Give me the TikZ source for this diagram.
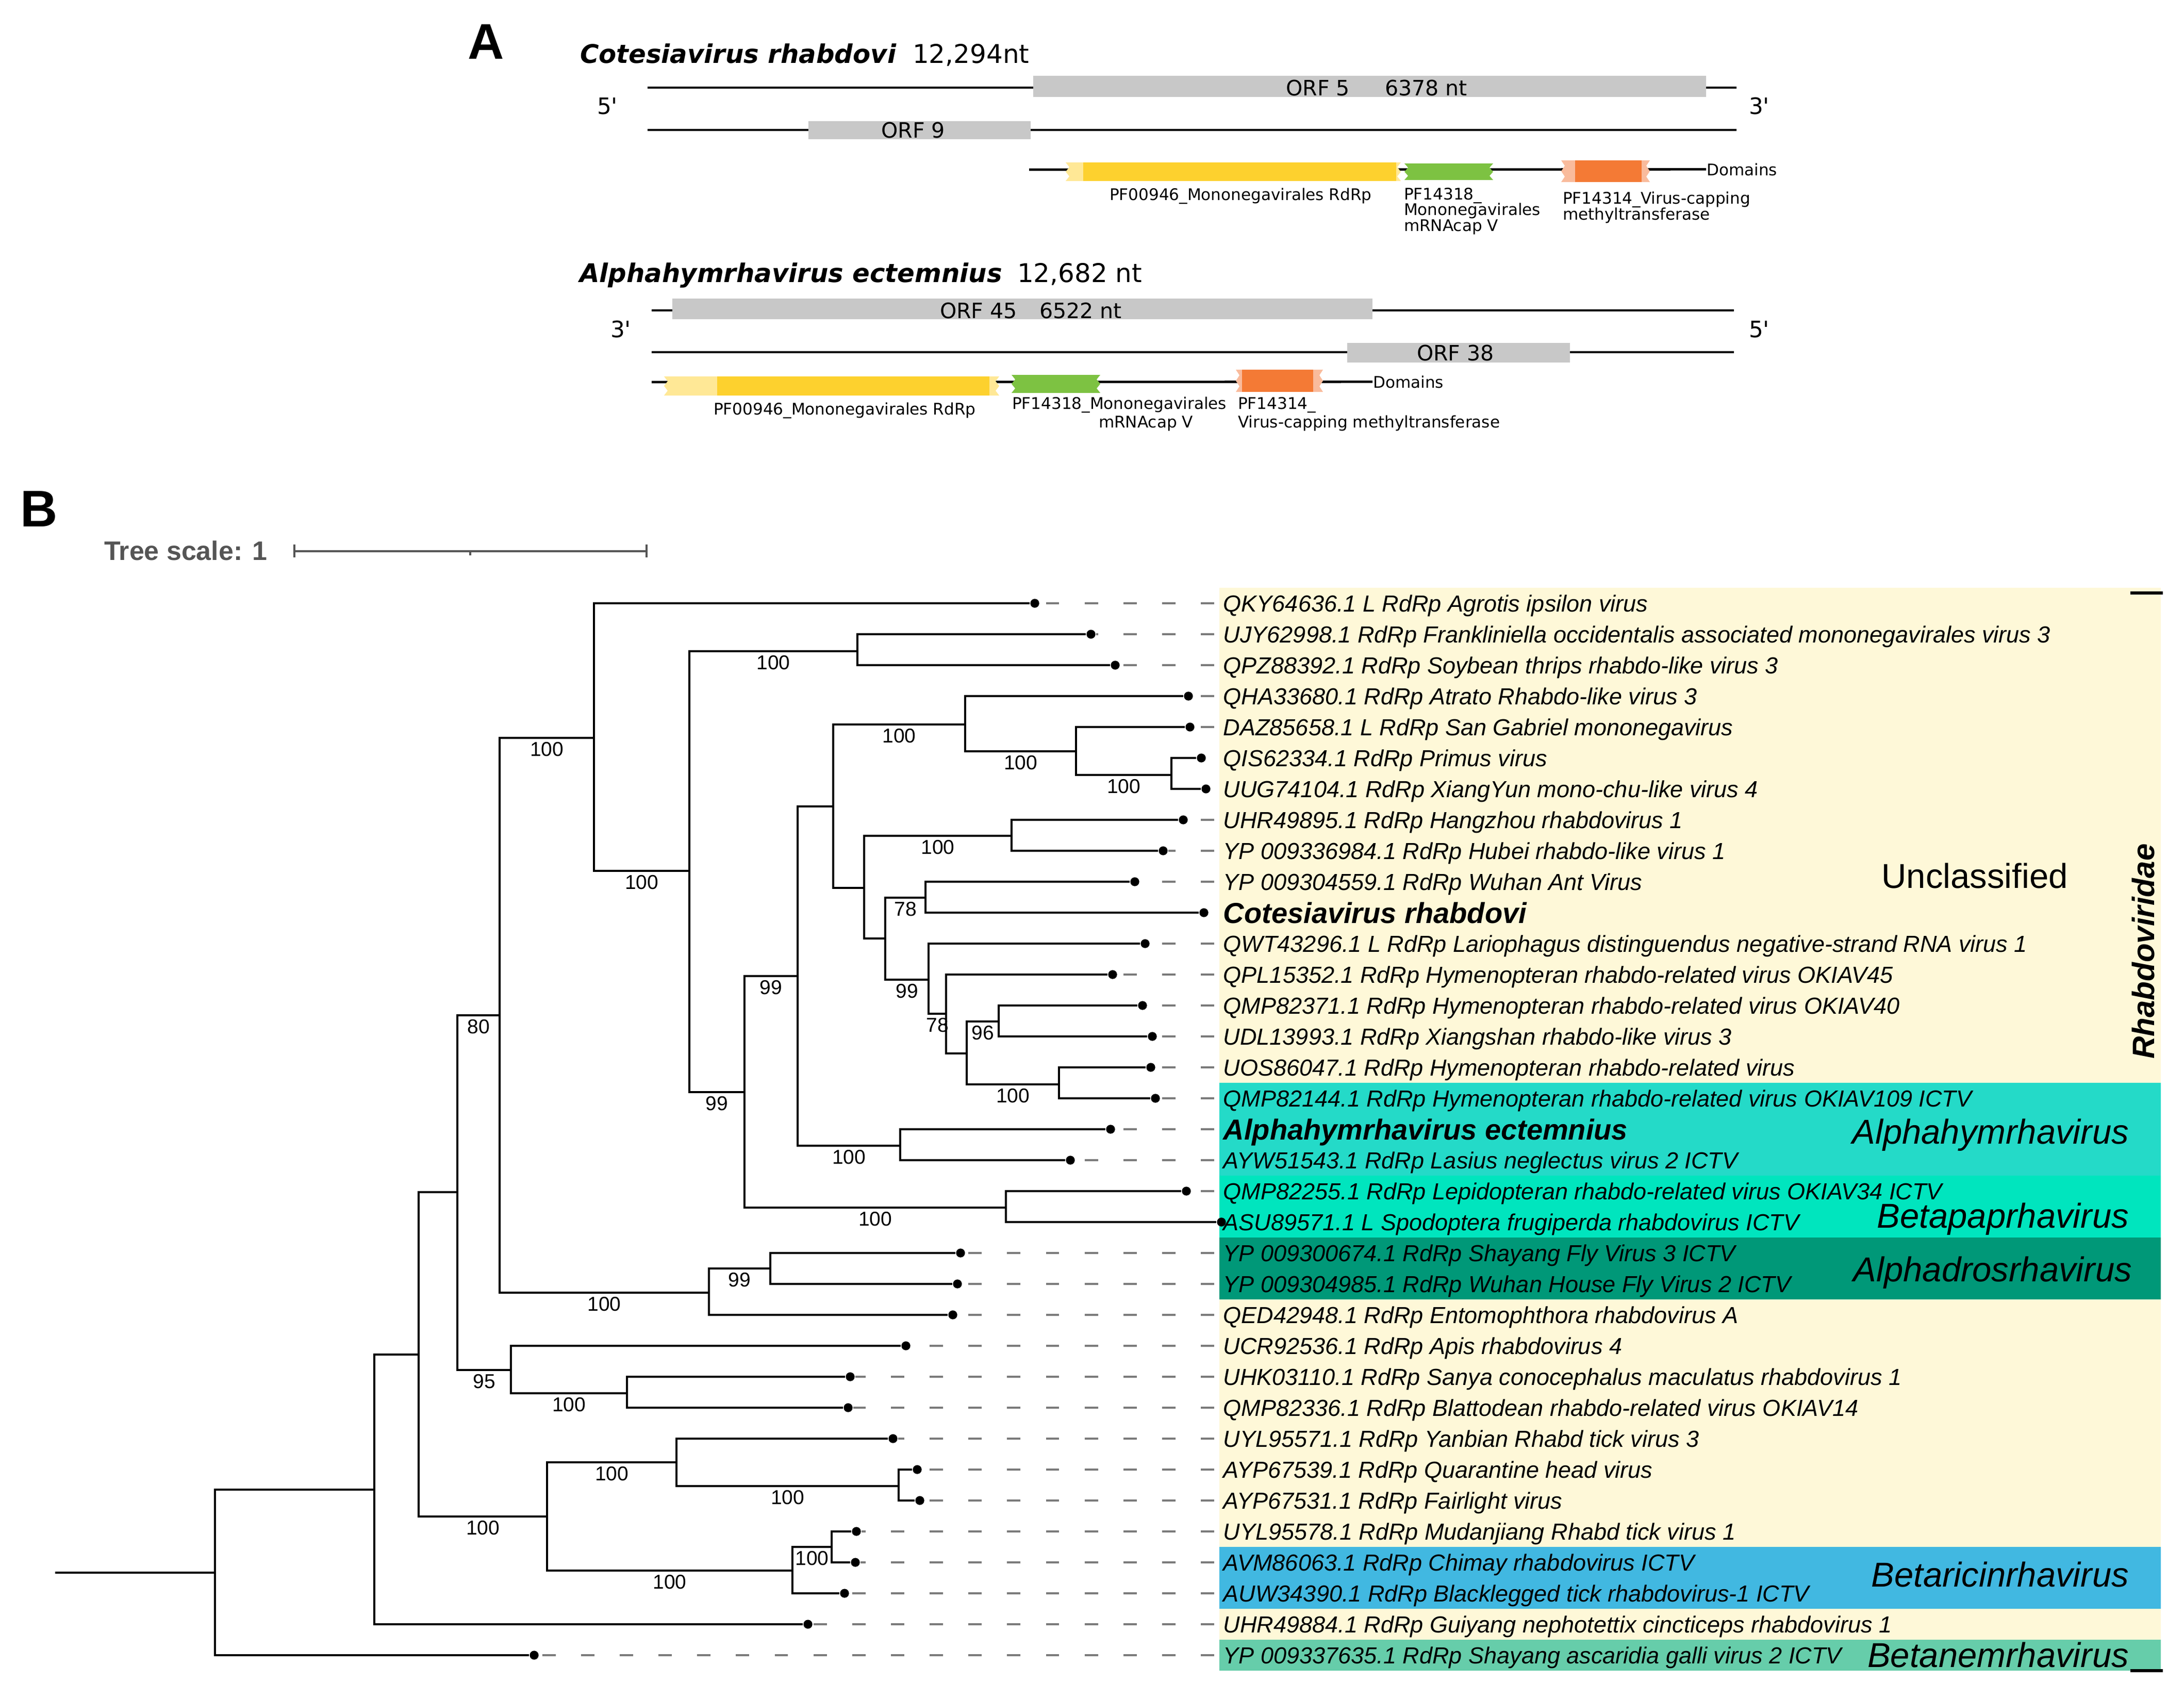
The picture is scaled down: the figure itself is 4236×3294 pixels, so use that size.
\documentclass[tikz,border=0pt]{standalone}
\usepackage{fontspec}
\setmainfont{Liberation Sans}
\newfontfamily\dvsans{DejaVu Sans}
\definecolor{bgY}{HTML}{FEF8D8}
\definecolor{cAlphahym}{HTML}{24DAC8}
\definecolor{cBetapap}{HTML}{00E5BE}
\definecolor{cAlphadros}{HTML}{009878}
\definecolor{cBetaricin}{HTML}{41B8E1}
\definecolor{cBetanem}{HTML}{66CDAA}
\definecolor{orfgray}{HTML}{C8C8C8}
\definecolor{ylwD}{HTML}{FDD12E}
\definecolor{ylwL}{HTML}{FFE896}
\definecolor{grnD}{HTML}{7DC242}
\definecolor{orgD}{HTML}{F47A35}
\definecolor{orgL}{HTML}{F9BB9C}
\definecolor{leadgray}{HTML}{7A7A7A}
\definecolor{scalegray}{HTML}{555555}
\newcommand\domzz[5]{%
  \fill[#5] (#1,#3) -- (#2,#3)
    -- ({#2-7},{#3+0.25*(#4-#3)}) -- (#2,{#3+0.5*(#4-#3)})
    -- ({#2-7},{#3+0.75*(#4-#3)}) -- (#2,#4) -- (#1,#4)
    -- ({#1+7},{#3+0.75*(#4-#3)}) -- (#1,{#3+0.5*(#4-#3)})
    -- ({#1+7},{#3+0.25*(#4-#3)}) -- cycle;}
\begin{document}
\begin{tikzpicture}[x=0.185bp,y=-0.185bp,
  br/.style={line width=0.8bp,black},
  gline/.style={line width=0.85bp,black},
  lead/.style={draw=leadgray,line width=0.75bp,dash pattern=on 4.8bp off 9.1bp},
  dot/.style={circle,fill=black,inner sep=0pt,minimum size=3.2bp},
  lab/.style={font=\fontsize{8.33bp}{10bp}\selectfont\itshape,inner xsep=3.1bp,inner ysep=0pt,anchor=base west},
  blab/.style={lab,font=\fontsize{10.36bp}{12bp}\selectfont\bfseries\itshape},
  boot/.style={font=\fontsize{7.2bp}{8bp}\selectfont,inner sep=0pt,anchor=north,yshift=-1.1bp},
  grp/.style={font=\fontsize{12.4bp}{14bp}\selectfont\itshape,inner sep=0pt,anchor=base east},
  ttl/.style={font=\dvsans\fontsize{9.2bp}{11bp}\selectfont\bfseries\itshape,inner sep=0pt,anchor=base west},
  ttn/.style={font=\dvsans\fontsize{9.25bp}{11bp}\selectfont,inner sep=0pt,anchor=base west},
  orf/.style={font=\dvsans\fontsize{7.6bp}{9bp}\selectfont,inner sep=0pt,anchor=base},
  prime/.style={font=\dvsans\fontsize{8.1bp}{9bp}\selectfont,inner sep=0pt,anchor=base},
  dom/.style={font=\dvsans\fontsize{5.75bp}{7bp}\selectfont,inner sep=0pt,anchor=base west},
  orfbox/.style={fill=orfgray}
]
\useasboundingbox (0,0) rectangle (4236,3294);

% ================= Panel A =================
\node[font=\fontsize{18bp}{20bp}\selectfont\bfseries,inner sep=0pt] (pA) at (943,81) {A};

% genome 1
\node[ttl] (t1) at (1124,122) {Cotesiavirus rhabdovi};
\node[ttn] (t1n) at (1769,122) {12,294nt};
\coordinate (g1a) at (1256,170); \coordinate (g1b) at (3368,170);
\coordinate (g1c) at (1256,252); \coordinate (g1d) at (3368,252);
\draw[gline] (g1a) -- (g1b);
\draw[gline] (g1c) -- (g1d);
\fill[orfbox] (2004,147) rectangle (3309,188);
\fill[orfbox] (1568,235) rectangle (1999,270);
\node[orf] (o5) at (2556,185) {ORF 5};
\node[orf] (o5n) at (2766,185) {6378 nt};
\node[orf] (o9) at (1771,267) {ORF 9};
\node[prime] (p5a) at (1178,221) {5\textquotesingle};
\node[prime] (p3a) at (3412,221) {3\textquotesingle};
\node[dom] (dm1) at (3309,340) {Domains};
\coordinate (d1a) at (1996,329);
\draw[gline] (d1a) -- (dm1.west);
\domzz{2067}{2717}{315}{351}{ylwL}
\fill[ylwD] (2101,315) rectangle (2708,351);
\domzz{2724}{2896}{317}{349}{grnD}
\domzz{3028}{3200}{311}{353}{orgL}
\fill[orgD] (3055,311) rectangle (3184,353);
\node[dom] (d1l1) at (2151,388) {PF00946\_Mononegavirales RdRp};
\node[dom] (d1l2) at (2722,387) {PF14318\_};
\node[dom] (d1l3) at (2722,417) {Mononegavirales};
\node[dom] (d1l4) at (2722,448) {mRNAcap V};
\node[dom] (d1l5) at (3030,395) {PF14314\_Virus-capping};
\node[dom] (d1l6) at (3030,426) {methyltransferase};

% genome 2
\node[ttl] (t2) at (1123,547) {Alphahymrhavirus ectemnius};
\node[ttn] (t2n) at (1972,547) {12,682 nt};
\coordinate (g2a) at (1264,602); \coordinate (g2b) at (3363,602);
\coordinate (g2c) at (1264,683); \coordinate (g2d) at (3363,683);
\draw[gline] (g2a) -- (g2b);
\draw[gline] (g2c) -- (g2d);
\fill[orfbox] (1304,579) rectangle (2662,619);
\fill[orfbox] (2613,665) rectangle (3045,703);
\node[orf] (o45) at (1898,617) {ORF 45};
\node[orf] (o45n) at (2096,617) {6522 nt};
\node[orf] (o38) at (2823,699) {ORF 38};
\node[prime] (p3b) at (1204,654) {3\textquotesingle};
\node[prime] (p5b) at (3412,654) {5\textquotesingle};
\node[dom] (dm2) at (2662,752) {Domains};
\coordinate (d2a) at (1264,741);
\draw[gline] (d2a) -- (dm2.west);
\domzz{1288}{1938}{730}{767}{ylwL}
\fill[ylwD] (1391,730) rectangle (1919,767);
\domzz{1962}{2134}{727}{762}{grnD}
\domzz{2397}{2566}{717}{760}{orgL}
\fill[orgD] (2409,717) rectangle (2547,760);
\node[dom] (d2l1) at (1383,804) {PF00946\_Mononegavirales RdRp};
\node[dom] (d2l2) at (1962,793) {PF14318\_Mononegavirales};
\node[dom] (d2l3) at (2130,829) {mRNAcap V};
\node[dom] (d2l4) at (2400,793) {PF14314\_};
\node[dom] (d2l5) at (2400,829) {Virus-capping methyltransferase};

% ================= Panel B =================
\node[font=\fontsize{18.5bp}{20bp}\selectfont\bfseries,inner sep=0pt] (pB) at (76,987) {B};
\node[font=\fontsize{9.6bp}{11bp}\selectfont\bfseries,text=scalegray,anchor=base west,inner sep=0pt] (ts) at (201,1086) {Tree scale: 1};
\coordinate (sb1) at (571,1069); \coordinate (sb2) at (1254,1069);
\draw[scalegray,line width=0.75bp] (sb1) -- (sb2);
\draw[scalegray,line width=0.75bp] (571,1056) -- (571,1081);
\draw[scalegray,line width=0.75bp] (1254,1056) -- (1254,1081);
\draw[scalegray,line width=0.75bp] (912,1069) -- (912,1077);

% backgrounds
\fill[bgY] (2365,1140) rectangle (4191,3240);
\fill[cAlphahym] (2365,2100) rectangle (4191,2280);
\fill[cBetapap] (2365,2280) rectangle (4191,2400);
\fill[cAlphadros] (2365,2400) rectangle (4191,2520);
\fill[cBetaricin] (2365,3000) rectangle (4191,3120);
\fill[cBetanem] (2365,3180) rectangle (4191,3240);
\draw[line width=1.1bp] (4132,1150) -- (4195,1150);
\draw[line width=1.1bp] (4132,3240) -- (4195,3240);

% internal nodes
\coordinate (S) at (107,3050);
\coordinate (R) at (417,3050);
\coordinate (N1) at (726,2889);
\coordinate (N2) at (812,2627);
\coordinate (N3) at (887,2312);
\coordinate (N5) at (969,1969);
\coordinate (Na) at (1152,1431);
\coordinate (Nb) at (1337,1689);
\coordinate (Nc) at (1663,1263);
\coordinate (Nd) at (1444,2118);
\coordinate (Ne) at (1547,1893);
\coordinate (Nf) at (1951,2342);
\coordinate (Ng) at (1616,1564);
\coordinate (Nh) at (1746,2222);
\coordinate (Ni) at (1872,1405);
\coordinate (Nk) at (2087,1457);
\coordinate (Nl) at (2272,1503);
\coordinate (Nj) at (1676,1722);
\coordinate (Nm) at (1962,1621);
\coordinate (Nn) at (1717,1820);
\coordinate (No) at (1795,1741);
\coordinate (Np) at (1801,1900);
\coordinate (Nq) at (1835,1966);
\coordinate (Nr) at (1875,2043);
\coordinate (Ns) at (1937,1981);
\coordinate (Nt) at (2054,2103);
\coordinate (N7) at (1375,2507);
\coordinate (N8) at (1494,2460);
\coordinate (N6) at (991,2657);
\coordinate (N9) at (1216,2702);
\coordinate (N4) at (1061,2941);
\coordinate (N10) at (1312,2836);
\coordinate (N12) at (1743,2882);
\coordinate (N11) at (1537,3046);
\coordinate (N13) at (1613,3000);

% leaves
\node[dot] (L1) at (2007,1170) {};
\node[dot] (L2) at (2116,1230) {};
\node[dot] (L3) at (2163,1290) {};
\node[dot] (L4) at (2305,1350) {};
\node[dot] (L5) at (2308,1410) {};
\node[dot] (L6) at (2330,1470) {};
\node[dot] (L7) at (2339,1530) {};
\node[dot] (L8) at (2295,1590) {};
\node[dot] (L9) at (2256,1650) {};
\node[dot] (L10) at (2201,1710) {};
\node[dot] (L11) at (2335,1770) {};
\node[dot] (L12) at (2221,1830) {};
\node[dot] (L13) at (2158,1890) {};
\node[dot] (L14) at (2216,1950) {};
\node[dot] (L15) at (2235,2010) {};
\node[dot] (L16) at (2232,2070) {};
\node[dot] (L17) at (2241,2130) {};
\node[dot] (L18) at (2154,2190) {};
\node[dot] (L19) at (2076,2250) {};
\node[dot] (L20) at (2301,2310) {};
\node[dot] (L21) at (2369,2370) {};
\node[dot] (L22) at (1863,2430) {};
\node[dot] (L23) at (1857,2490) {};
\node[dot] (L24) at (1848,2550) {};
\node[dot] (L25) at (1757,2610) {};
\node[dot] (L26) at (1649,2670) {};
\node[dot] (L27) at (1645,2730) {};
\node[dot] (L28) at (1732,2790) {};
\node[dot] (L29) at (1779,2850) {};
\node[dot] (L30) at (1784,2910) {};
\node[dot] (L31) at (1661,2970) {};
\node[dot] (L32) at (1659,3030) {};
\node[dot] (L33) at (1638,3090) {};
\node[dot] (L34) at (1567,3150) {};
\node[dot] (L35) at (1036,3210) {};

% branches
\draw[br] (S) -- (R);
\draw[br] (R) |- (N1);
\draw[br] (R) |- (L35);
\draw[br] (N1) |- (N2);
\draw[br] (N1) |- (L34);
\draw[br] (N2) |- (N3);
\draw[br] (N2) |- (N4) node[boot,pos=.75] {100};
\draw[br] (N3) |- (N5) node[boot,pos=.75] {80};
\draw[br] (N3) |- (N6) node[boot,pos=.75] {95};
\draw[br] (N5) |- (Na) node[boot,pos=.75] {100};
\draw[br] (N5) |- (N7) node[boot,pos=.75] {100};
\draw[br] (Na) |- (L1);
\draw[br] (Na) |- (Nb) node[boot,pos=.75] {100};
\draw[br] (Nb) |- (Nc) node[boot,pos=.75] {100};
\draw[br] (Nb) |- (Nd) node[boot,pos=.75] {99};
\draw[br] (Nc) |- (L2);
\draw[br] (Nc) |- (L3);
\draw[br] (Nd) |- (Ne) node[boot,pos=.75] {99};
\draw[br] (Nd) |- (Nf) node[boot,pos=.75] {100};
\draw[br] (Nf) |- (L20);
\draw[br] (Nf) |- (L21);
\draw[br] (Ne) |- (Ng);
\draw[br] (Ne) |- (Nh) node[boot,pos=.75] {100};
\draw[br] (Nh) |- (L18);
\draw[br] (Nh) |- (L19);
\draw[br] (Ng) |- (Ni) node[boot,pos=.75] {100};
\draw[br] (Ng) |- (Nj);
\draw[br] (Ni) |- (L4);
\draw[br] (Ni) |- (Nk) node[boot,pos=.75] {100};
\draw[br] (Nk) |- (L5);
\draw[br] (Nk) |- (Nl) node[boot,pos=.75] {100};
\draw[br] (Nl) |- (L6);
\draw[br] (Nl) |- (L7);
\draw[br] (Nj) |- (Nm) node[boot,pos=.75] {100};
\draw[br] (Nj) |- (Nn);
\draw[br] (Nm) |- (L8);
\draw[br] (Nm) |- (L9);
\draw[br] (Nn) |- (No) node[boot,pos=.75] {78};
\draw[br] (Nn) |- (Np) node[boot,pos=.75] {99};
\draw[br] (No) |- (L10);
\draw[br] (No) |- (L11);
\draw[br] (Np) |- (L12);
\draw[br] (Np) |- (Nq) node[boot,pos=.75] {78};
\draw[br] (Nq) |- (L13);
\draw[br] (Nq) |- (Nr);
\draw[br] (Nr) |- (Ns) node[boot,pos=.75] {96};
\draw[br] (Nr) |- (Nt) node[boot,pos=.75] {100};
\draw[br] (Ns) |- (L14);
\draw[br] (Ns) |- (L15);
\draw[br] (Nt) |- (L16);
\draw[br] (Nt) |- (L17);
\draw[br] (N7) |- (N8) node[boot,pos=.75] {99};
\draw[br] (N7) |- (L24);
\draw[br] (N8) |- (L22);
\draw[br] (N8) |- (L23);
\draw[br] (N6) |- (L25);
\draw[br] (N6) |- (N9) node[boot,pos=.75] {100};
\draw[br] (N9) |- (L26);
\draw[br] (N9) |- (L27);
\draw[br] (N4) |- (N10) node[boot,pos=.75] {100};
\draw[br] (N4) |- (N11) node[boot,pos=.75] {100};
\draw[br] (N10) |- (L28);
\draw[br] (N10) |- (N12) node[boot,pos=.75] {100};
\draw[br] (N12) |- (L29);
\draw[br] (N12) |- (L30);
\draw[br] (N11) |- (N13) node[boot,pos=.75] {100};
\draw[br] (N11) |- (L33);
\draw[br] (N13) |- (L31);
\draw[br] (N13) |- (L32);

% leaf labels
\node[lab] (T1) at (2355,1186) {QKY64636.1 L RdRp Agrotis ipsilon virus};
\node[lab] (T2) at (2355,1246) {UJY62998.1 RdRp Frankliniella occidentalis associated mononegavirales virus 3};
\node[lab] (T3) at (2355,1306) {QPZ88392.1 RdRp Soybean thrips rhabdo-like virus 3};
\node[lab] (T4) at (2355,1366) {QHA33680.1 RdRp Atrato Rhabdo-like virus 3};
\node[lab] (T5) at (2355,1426) {DAZ85658.1 L RdRp San Gabriel mononegavirus};
\node[lab] (T6) at (2355,1486) {QIS62334.1 RdRp Primus virus};
\node[lab] (T7) at (2355,1546) {UUG74104.1 RdRp XiangYun mono-chu-like virus 4};
\node[lab] (T8) at (2355,1606) {UHR49895.1 RdRp Hangzhou rhabdovirus 1};
\node[lab] (T9) at (2355,1666) {YP 009336984.1 RdRp Hubei rhabdo-like virus 1};
\node[lab] (T10) at (2355,1726) {YP 009304559.1 RdRp Wuhan Ant Virus};
\node[blab] (T11) at (2355,1790) {Cotesiavirus rhabdovi};
\node[lab] (T12) at (2355,1846) {QWT43296.1 L RdRp Lariophagus distinguendus negative-strand RNA virus 1};
\node[lab] (T13) at (2355,1906) {QPL15352.1 RdRp Hymenopteran rhabdo-related virus OKIAV45};
\node[lab] (T14) at (2355,1966) {QMP82371.1 RdRp Hymenopteran rhabdo-related virus OKIAV40};
\node[lab] (T15) at (2355,2026) {UDL13993.1 RdRp Xiangshan rhabdo-like virus 3};
\node[lab] (T16) at (2355,2086) {UOS86047.1 RdRp Hymenopteran rhabdo-related virus};
\node[lab] (T17) at (2355,2146) {QMP82144.1 RdRp Hymenopteran rhabdo-related virus OKIAV109 ICTV};
\node[blab] (T18) at (2355,2210) {Alphahymrhavirus ectemnius};
\node[lab] (T19) at (2355,2266) {AYW51543.1 RdRp Lasius neglectus virus 2 ICTV};
\node[lab] (T20) at (2355,2326) {QMP82255.1 RdRp Lepidopteran rhabdo-related virus OKIAV34 ICTV};
\node[lab] (T21) at (2355,2386) {ASU89571.1 L Spodoptera frugiperda rhabdovirus ICTV};
\node[lab] (T22) at (2355,2446) {YP 009300674.1 RdRp Shayang Fly Virus 3 ICTV};
\node[lab] (T23) at (2355,2506) {YP 009304985.1 RdRp Wuhan House Fly Virus 2 ICTV};
\node[lab] (T24) at (2355,2566) {QED42948.1 RdRp Entomophthora rhabdovirus A};
\node[lab] (T25) at (2355,2626) {UCR92536.1 RdRp Apis rhabdovirus 4};
\node[lab] (T26) at (2355,2686) {UHK03110.1 RdRp Sanya conocephalus maculatus rhabdovirus 1};
\node[lab] (T27) at (2355,2746) {QMP82336.1 RdRp Blattodean rhabdo-related virus OKIAV14};
\node[lab] (T28) at (2355,2806) {UYL95571.1 RdRp Yanbian Rhabd tick virus 3};
\node[lab] (T29) at (2355,2866) {AYP67539.1 RdRp Quarantine head virus};
\node[lab] (T30) at (2355,2926) {AYP67531.1 RdRp Fairlight virus};
\node[lab] (T31) at (2355,2986) {UYL95578.1 RdRp Mudanjiang Rhabd tick virus 1};
\node[lab] (T32) at (2355,3046) {AVM86063.1 RdRp Chimay rhabdovirus ICTV};
\node[lab] (T33) at (2355,3106) {AUW34390.1 RdRp Blacklegged tick rhabdovirus-1 ICTV};
\node[lab] (T34) at (2355,3166) {UHR49884.1 RdRp Guiyang nephotettix cincticeps rhabdovirus 1};
\node[lab] (T35) at (2355,3226) {YP 009337635.1 RdRp Shayang ascaridia galli virus 2 ICTV};

% dashed leaders
\foreach \i in {1,2,3,4,5,8,9,10,12,13,14,15,16,17,18,19,20,22,23,24,25,26,27,28,29,30,31,32,33,34,35}{
  \draw[lead] (T\i.west |- L\i) -- (L\i);
}

% group labels
\node[grp,font=\fontsize{12.4bp}{14bp}\selectfont] (gU) at (4012,1722) {Unclassified};
\node[grp] (gA) at (4130,2218) {Alphahymrhavirus};
\node[grp] (gB) at (4130,2381) {Betapaprhavirus};
\node[grp] (gC) at (4136,2485) {Alphadrosrhavirus};
\node[grp] (gD) at (4130,3077) {Betaricinrhavirus};
\node[grp] (gE) at (4130,3233) {Betanemrhavirus};
\node[font=\fontsize{11.1bp}{13bp}\selectfont\bfseries\itshape,rotate=90,inner sep=0pt] (fam) at (4157,1845) {Rhabdoviridae};
\end{tikzpicture}
\end{document}
